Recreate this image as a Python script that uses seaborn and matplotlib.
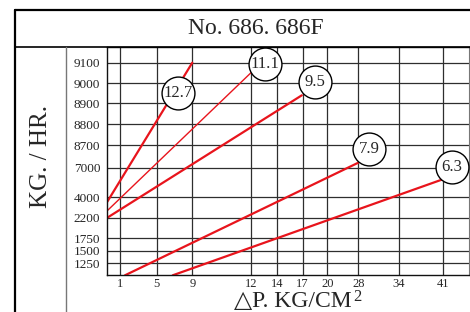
import numpy as np
import pandas as pd
import seaborn as sns
import matplotlib
matplotlib.use('Agg')
import matplotlib.pyplot as plt
from matplotlib.lines import Line2D

# chart values
series_labels = ['12.7', '11.1', '9.5', '7.9', '6.3']
dp_start = [0, 0, 0, 1.57, 6.8]
dp_end = [9, 12, 16.9, 28, 41]
flow_start = [3610, 2820, 2200, 1000, 1000]
flow_end = [9100, 9050, 8940, 7380, 5820]

# where the circled size labels sit
label_dp = [7.4, 13.1, 18.5, 29.6, 42.4]
label_flow = [8950, 9095, 9005, 8420, 7030]

x_ticks = [1, 5, 9, 12, 14, 17, 20, 28, 34, 41]
y_ticks = [1250, 1500, 1750, 2200, 4000, 7000, 8700, 8800, 8900, 9000, 9100]

# the printed chart has uneven axes: anchor values -> pixel offsets
x_anchor_val = [0, 1, 5, 9, 12, 14, 17, 20, 28, 34, 41, 45]
x_anchor_pos = [0, 12.4, 49.4, 85, 143.4, 169.4, 195.4, 220, 251, 291.7, 335.4, 362]
y_anchor_val = [1000, 1250, 1500, 1750, 2200, 4000, 7000, 8700, 8800, 8900, 9000, 9100, 9175]
y_anchor_pos = [0, 12, 24.6, 37, 57.6, 78, 107.6, 130, 151, 172, 192, 212.6, 228.3]

sns.set_style('white')
plt.rcParams['font.family'] = ['Liberation Serif', 'DejaVu Sans']

W, H = 470, 312
fig = plt.figure(figsize=(W / 100, H / 100), dpi=100)
ax = fig.add_axes([107.3 / W, (H - 275.3) / H, 362 / W, 228.3 / H])

ax.set_xscale('function', functions=(lambda v: np.interp(v, x_anchor_val, x_anchor_pos),
                                     lambda p: np.interp(p, x_anchor_pos, x_anchor_val)))
ax.set_yscale('function', functions=(lambda v: np.interp(v, y_anchor_val, y_anchor_pos),
                                     lambda p: np.interp(p, y_anchor_pos, y_anchor_val)))

red = '#e8141c'
for i, lab in enumerate(series_labels):
    df = pd.DataFrame({'dp': [dp_start[i], dp_end[i]], 'flow': [flow_start[i], flow_end[i]]})
    sns.lineplot(data=df, x='dp', y='flow', ax=ax, color=red,
                 lw=1.0 if lab == '11.1' else 1.6, zorder=2)

ax.scatter(label_dp, label_flow, s=560, facecolor='white', edgecolor='black',
           linewidth=1.0, zorder=4, clip_on=False)
for lab, xv, yv in zip(series_labels, label_dp, label_flow):
    ax.text(xv, yv, lab, ha='center', va='center', fontsize=12, zorder=5)

ax.set_xlim(0, 45)
ax.set_ylim(1000, 9175)
ax.set_xticks(x_ticks)
ax.set_yticks(y_ticks)
ax.minorticks_off()
ax.grid(True, color='#2e2e2e', lw=0.9)
ax.set_xlabel('')
ax.set_ylabel('')
ax.tick_params(axis='both', length=0)
ax.tick_params(axis='x', labelsize=9, pad=2)
ax.tick_params(axis='y', labelsize=9.5, pad=5)
for side in ['left', 'bottom', 'top']:
    ax.spines[side].set_color('#111111')
    ax.spines[side].set_linewidth(1.0)
ax.spines['right'].set_color('#777777')

# outer frame of the printed table
def frame_line(x0, y0, x1, y1, color='black', lw=1.0):
    fig.add_artist(Line2D([x0 / W, x1 / W], [1 - y0 / H, 1 - y1 / H],
                          transform=fig.transFigure, color=color, lw=lw))

frame_line(15, 10, 15, H, lw=1.6)
frame_line(15, 10, W, 10, lw=1.6)
frame_line(15, 47, W, 47, lw=1.2)
frame_line(66, 47, 66, H, color='#777777', lw=1.0)

fig.text(256 / W, 1 - 28.5 / H, 'No. 686. 686F', ha='center', va='center', fontsize=17)
fig.text(41 / W, 1 - 156 / H, 'KG. / HR.', ha='center', va='center', rotation=90, fontsize=18)
xl = fig.text(293 / W, 1 - 302 / H, '△P. KG/CM', ha='center', va='center', fontsize=17)
ax.annotate('2', xy=(1, 1), xycoords=xl, xytext=(1, 2), textcoords='offset points',
            ha='left', va='top', fontsize=12)

fig.savefig('out.png', dpi=100)
